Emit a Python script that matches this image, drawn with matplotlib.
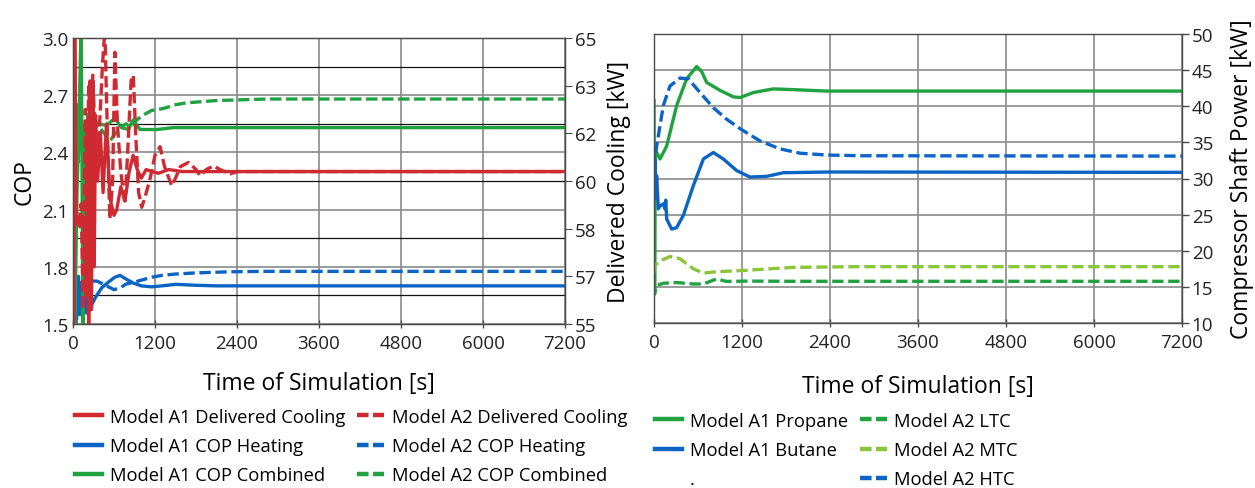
import matplotlib
matplotlib.use("Agg")
import matplotlib.pyplot as plt
from matplotlib.lines import Line2D
from matplotlib.ticker import FixedLocator, FixedFormatter

plt.rcParams['font.family'] = ['Open Sans', 'DejaVu Sans']

# ---------------- data: left panel (COP and delivered cooling) ----------------
a1_cool_t = [0, 10, 25, 45, 70, 100, 130, 160, 190, 210, 230, 250, 270, 290, 310, 330, 360,
             400, 440, 490, 540, 600, 640, 700, 760, 820, 880, 940, 1000, 1070, 1130, 1250,
             1400, 1600, 7200]
a1_cool_kw = [66, 54, 65.5, 58.5, 58.7, 58.4, 58.8, 58.5, 56.0, 62.0, 54.5, 63.5, 55.5, 63.3,
              57.0, 62.3, 60.0, 61.7, 59.6, 62.0, 59.4, 58.8, 59.0, 59.8, 59.3, 60.3, 60.9,
              60.4, 60.1, 60.4, 60.35, 60.27, 60.4, 60.33, 60.33]

a2_cool_t = [0, 40, 80, 120, 150, 180, 200, 230, 260, 290, 320, 350, 400, 430, 466, 500, 539,
             580, 613, 650, 700, 760, 800, 850, 882, 920, 960, 1005, 1050, 1130, 1200, 1274,
             1340, 1445, 1500, 1570, 1690, 1800, 1862, 1950, 2058, 2150, 2303, 2400, 7200]
a2_cool_kw = [58.6, 58.7, 58.4, 59.2, 55.5, 62.5, 59.5, 63.3, 61.5, 63.7, 61.8, 60.2, 62.5,
              64.0, 65.3, 62.0, 58.67, 60.0, 64.5, 62.0, 60.3, 59.2, 61.0, 63.5, 63.7, 61.5,
              59.6, 59.08, 59.4, 60.1, 60.9, 61.2, 60.5, 59.83, 60.1, 60.5, 60.65, 60.4, 60.18,
              60.4, 60.53, 60.4, 60.25, 60.33, 60.33]

a1_heat_t = [0, 20, 40, 60, 80, 100, 130, 160, 190, 220, 250, 273, 330, 420, 520, 610, 688,
             780, 880, 1000, 1150, 1300, 1500, 1800, 2100, 7200]
a1_heat_cop = [1.55, 1.86, 1.50, 1.65, 1.75, 1.55, 1.72, 1.58, 1.66, 1.55, 1.63, 1.60, 1.64,
               1.69, 1.72, 1.745, 1.755, 1.735, 1.715, 1.70, 1.695, 1.70, 1.708, 1.703, 1.70,
               1.70]

a2_heat_t = [0, 30, 55, 85, 115, 145, 175, 205, 240, 273, 350, 440, 520, 600, 690, 780, 880,
             1000, 1150, 1300, 1500, 1800, 2300, 2800, 7200]
a2_heat_cop = [1.60, 1.80, 1.52, 1.70, 1.58, 1.76, 1.55, 1.68, 1.60, 1.725, 1.725, 1.71,
               1.695, 1.68, 1.69, 1.71, 1.718, 1.73, 1.745, 1.755, 1.762, 1.768, 1.774, 1.776,
               1.776]

a1_comb_t = [0, 25, 60, 90, 120, 145, 170, 195, 220, 245, 275, 320, 390, 490, 610, 710, 810,
             880, 980, 1225, 1470, 7200]
a1_comb_cop = [3.1, 1.45, 2.2, 2.6, 3.1, 1.45, 2.45, 2.35, 2.60, 2.45, 2.62, 2.53, 2.55,
               2.54, 2.58, 2.53, 2.52, 2.57, 2.52, 2.52, 2.53, 2.53]

a2_comb_t = [0, 15, 35, 55, 80, 105, 130, 160, 190, 215, 245, 275, 350, 540, 600, 685, 780,
             840, 900, 1000, 1150, 1320, 1500, 1660, 2100, 2850, 7200]
a2_comb_cop = [2.5, 3.1, 2.0, 2.65, 2.35, 2.6, 2.4, 2.55, 2.38, 2.6, 2.42, 2.61, 2.55, 2.46,
               2.49, 2.53, 2.55, 2.53, 2.56, 2.59, 2.62, 2.63, 2.65, 2.66, 2.672, 2.68, 2.68]

# ---------------- data: right panel (compressor shaft power) ----------------
propane_t = [0, 8, 18, 36, 82, 173, 309, 445, 582, 650, 718, 900, 1082, 1173, 1354, 1627,
             1900, 2354, 7200]
propane_kw = [40.8, 14.0, 34.0, 33.6, 32.7, 34.5, 40.1, 43.8, 45.5, 44.8, 43.3, 42.2, 41.3,
              41.2, 41.9, 42.4, 42.3, 42.1, 42.1]

butane_t = [0, 5, 14, 23, 36, 59, 82, 127, 150, 160, 173, 241, 309, 400, 536, 673, 809, 945,
            1127, 1309, 1536, 1764, 2400, 7200]
butane_kw = [33.2, 29.0, 32.5, 27.2, 30.4, 25.8, 26.2, 26.5, 25.8, 27.0, 24.4, 23.0, 23.2,
             24.9, 29.0, 32.7, 33.6, 32.7, 31.1, 30.2, 30.3, 30.8, 30.9, 30.85]

htc_t = [0, 14, 59, 127, 218, 354, 468, 627, 809, 991, 1173, 1445, 1718, 1991, 2354, 2809,
         7200]
htc_kw = [31.3, 33.0, 35.9, 40.1, 42.8, 43.9, 43.8, 41.9, 39.8, 38.2, 36.9, 35.2, 34.1,
          33.5, 33.25, 33.15, 33.1]

mtc_t = [0, 5, 82, 218, 354, 536, 673, 854, 1082, 1264, 1900, 2809, 7200]
mtc_kw = [17.0, 17.9, 18.6, 19.2, 18.9, 17.5, 16.9, 17.1, 17.2, 17.3, 17.7, 17.8, 17.8]

ltc_t = [0, 5, 36, 127, 309, 536, 673, 854, 991, 1264, 1900, 7200]
ltc_kw = [14.8, 14.0, 15.2, 15.5, 15.6, 15.4, 15.4, 16.1, 15.75, 15.8, 15.77, 15.77]

time_ticks = [0, 1200, 2400, 3600, 4800, 6000, 7200]
cop_ticks = [1.5, 1.8, 2.1, 2.4, 2.7, 3.0]
cool_ticks = [55, 55 + 10 / 6, 55 + 20 / 6, 60, 55 + 40 / 6, 55 + 50 / 6, 65]
cool_tick_labels = ['55', '57', '58', '60', '62', '63', '65']
power_ticks = [10, 15, 20, 25, 30, 35, 40, 45, 50]

# ---------------- styling ----------------
RED = '#CF2A32'
BLUE = '#0B64C4'
GREEN = '#1FA23F'
LGREEN = '#8CC43C'
GRID = '#8a8a8a'
SPINE = '#4a4a4a'
LW = 2.4
DASH = (3.4, 1.4)
TICK_FS = 13.5
LABEL_FS = 16.5
LEG_FS = 13.2

fig = plt.figure(figsize=(12.55, 4.89), dpi=100)
axL = fig.add_axes([73 / 1255, 1 - 325 / 489, (565 - 73) / 1255, (325 - 39) / 489])
axR = fig.add_axes([654 / 1255, 1 - 324 / 489, (1182 - 654) / 1255, (324 - 35) / 489])


def style_axis(ax):
    for s in ax.spines.values():
        s.set_color(SPINE)
        s.set_linewidth(1.0)
    ax.tick_params(axis='both', labelsize=TICK_FS, colors='#222222', width=1.0,
                   color=SPINE)
    ax.tick_params(axis='x', direction='inout', length=6, pad=4)


# left panel
axL.plot(a1_heat_t, a1_heat_cop, color=BLUE, lw=LW, label='Model A1 COP Heating')
axL.plot(a2_heat_t, a2_heat_cop, color=BLUE, lw=LW, ls=(0, DASH), label='Model A2 COP Heating')
axL.plot(a1_comb_t, a1_comb_cop, color=GREEN, lw=LW, label='Model A1 COP Combined')
axL.plot(a2_comb_t, a2_comb_cop, color=GREEN, lw=LW, ls=(0, DASH),
         label='Model A2 COP Combined')
axL.set_xlim(0, 7200)
axL.set_ylim(1.5, 3.0)
axL.set_xticks(time_ticks)
axL.yaxis.set_major_locator(FixedLocator(cop_ticks))
axL.yaxis.set_major_formatter(FixedFormatter([f'{v:.1f}' for v in cop_ticks]))
axL.yaxis.set_minor_locator(FixedLocator([1.65, 1.95, 2.25, 2.55, 2.85]))
axL.grid(True, which='major', color=GRID, lw=1.2)
axL.grid(True, which='minor', axis='y', color='#111111', lw=0.9)
axL.set_axisbelow(True)
style_axis(axL)
axL.tick_params(axis='y', which='both', length=0, pad=3)
axL.set_ylabel('COP', fontsize=LABEL_FS, labelpad=4)
axL.set_xlabel('Time of Simulation [s]', fontsize=LABEL_FS, labelpad=14)

axL2 = axL.twinx()
axL2.plot(a1_cool_t, a1_cool_kw, color=RED, lw=LW, label='Model A1 Delivered Cooling')
axL2.plot(a2_cool_t, a2_cool_kw, color=RED, lw=LW, ls=(0, DASH),
          label='Model A2 Delivered Cooling')
axL2.set_ylim(55, 65)
axL2.yaxis.set_major_locator(FixedLocator(cool_ticks))
axL2.yaxis.set_major_formatter(FixedFormatter(cool_tick_labels))
for s in axL2.spines.values():
    s.set_color(SPINE)
axL2.tick_params(axis='y', labelsize=TICK_FS, colors='#222222', color=SPINE,
                 direction='out', length=5, pad=2)
axL2.set_ylabel('Delivered Cooling [kW]', fontsize=LABEL_FS, labelpad=8)
axL2.set_xlim(0, 7200)

# right panel
axR.plot(propane_t, propane_kw, color=GREEN, lw=LW, label='Model A1 Propane')
axR.plot(butane_t, butane_kw, color=BLUE, lw=LW, label='Model A1 Butane')
axR.plot(ltc_t, ltc_kw, color=GREEN, lw=LW, ls=(0, DASH), label='Model A2 LTC')
axR.plot(mtc_t, mtc_kw, color=LGREEN, lw=LW, ls=(0, DASH), label='Model A2 MTC')
axR.plot(htc_t, htc_kw, color=BLUE, lw=LW, ls=(0, DASH), label='Model A2 HTC')
axR.set_xlim(0, 7200)
axR.set_ylim(10, 50)
axR.set_xticks(time_ticks)
axR.set_yticks(power_ticks)
axR.yaxis.set_minor_locator(FixedLocator([15]))
axR.yaxis.tick_right()
axR.yaxis.set_label_position('right')
axR.grid(True, which='major', color=GRID, lw=1.2)
axR.grid(True, which='minor', axis='y', color='#111111', lw=1.0)
axR.set_axisbelow(True)
style_axis(axR)
axR.tick_params(axis='y', which='major', direction='out', length=5, pad=2)
axR.tick_params(axis='y', which='minor', length=0)
axR.set_ylabel('Compressor Shaft Power [kW]', fontsize=LABEL_FS, labelpad=12)
axR.set_xlabel('Time of Simulation [s]', fontsize=LABEL_FS, labelpad=17)


# legends
def handle(color, dashed):
    return Line2D([], [], color=color, lw=3.2, ls=(0, (2.6, 1.0)) if dashed else '-')


left_handles = [handle(RED, False), handle(BLUE, False), handle(GREEN, False),
                handle(RED, True), handle(BLUE, True), handle(GREEN, True)]
left_labels = ['Model A1 Delivered Cooling', 'Model A1 COP Heating', 'Model A1 COP Combined',
               'Model A2 Delivered Cooling', 'Model A2 COP Heating', 'Model A2 COP Combined']
fig.legend(left_handles, left_labels, ncol=2, loc='upper left',
           bbox_to_anchor=(60 / 1255, 1 - 394 / 489), frameon=False, fontsize=LEG_FS,
           handlelength=1.5, handletextpad=0.4, columnspacing=0.65, labelspacing=0.62,
           borderpad=0.3)

right_handles = [handle(GREEN, False), handle(BLUE, False), Line2D([], [], lw=0),
                 handle(GREEN, True), handle(LGREEN, True), handle(BLUE, True)]
right_labels = ['Model A1 Propane', 'Model A1 Butane', '.',
                'Model A2 LTC', 'Model A2 MTC', 'Model A2 HTC']
fig.legend(right_handles, right_labels, ncol=2, loc='upper left',
           bbox_to_anchor=(640 / 1255, 1 - 398 / 489), frameon=False, fontsize=LEG_FS,
           handlelength=1.5, handletextpad=0.4, columnspacing=0.65, labelspacing=0.62,
           borderpad=0.3)

fig.savefig('out.png', dpi=100)
